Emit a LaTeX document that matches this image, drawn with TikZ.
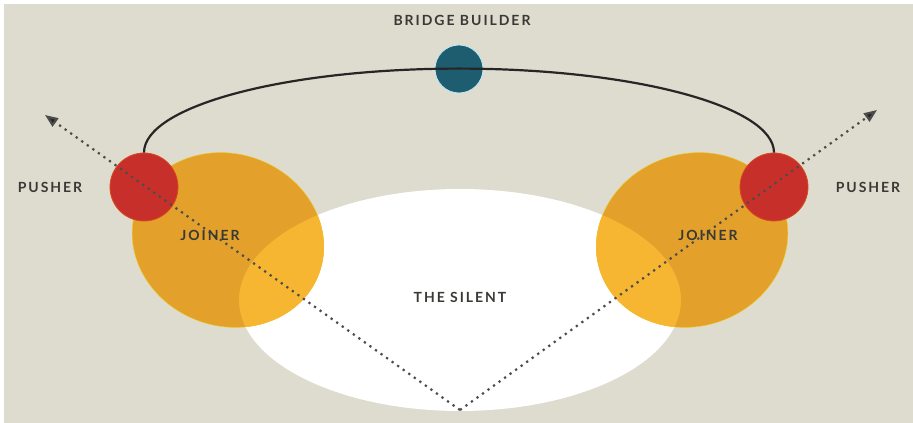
\documentclass[tikz,border=0pt]{standalone}
\usepackage{fontspec}
\usepackage{tikz,xcolor}
\usetikzlibrary{arrows.meta}
\usetikzlibrary{positioning}
\newfontfamily\lblfont{Lato}[LetterSpace=14]

\definecolor{bgbeige}{HTML}{DEDCCE}
\definecolor{orgdark}{HTML}{E3A12C}
\definecolor{orglight}{HTML}{F7B631}
\definecolor{pushred}{HTML}{C7302A}
\definecolor{bridgeblue}{HTML}{1E5C70}
\definecolor{lbltext}{HTML}{3A3935}

\begin{document}
\begin{tikzpicture}[x=1pt,y=1pt,
    lbl/.style={text=lbltext,font=\lblfont\bfseries\fontsize{14}{14}\selectfont},
    pusherdot/.style={circle,fill=pushred,draw=pushred!70!orange,line width=0.8pt,minimum size=68pt,inner sep=0pt},
    bridgedot/.style={circle,fill=bridgeblue,draw=cyan!25!white,line width=0.8pt,minimum size=48pt,inner sep=0pt},
    pathdots/.style={line width=2.2pt,dash pattern=on 2.2pt off 4.6pt,draw=black!70,-{Triangle[length=13pt,width=10pt,fill=black!85]}}]
        % Fundo
        \fill[white] (0,0) rectangle (913,423);
        \fill[bgbeige] (4,0) rectangle (913,419);
        \useasboundingbox (0,0) rectangle (913,423);

        % The silent
        \fill[white] (460,123) ellipse[x radius=221,y radius=111];

        % Joiners
        \fill[orgdark,draw=orgdark!60!yellow,rotate around={-20:(228,183)}] (228,183) ellipse[x radius=97,y radius=86];
        \fill[orgdark,draw=orgdark!60!yellow,rotate around={20:(692,183)}] (692,183) ellipse[x radius=97,y radius=86];
        \begin{scope}
          \clip (460,123) ellipse[x radius=221,y radius=111];
          \fill[orglight,rotate around={-20:(228,183)}] (228,183) ellipse[x radius=97,y radius=86];
          \fill[orglight,rotate around={20:(692,183)}] (692,183) ellipse[x radius=97,y radius=86];
        \end{scope}

        % Pushers e bridge builder
        \node[pusherdot] (lpush) at (144,236) {};
        \node[pusherdot] (rpush) at (774,236) {};
        \node[bridgedot] (bridge) at (459,354) {};

        % Arco
        \draw[line width=2.2pt,black!85] (lpush.north) arc[start angle=180,end angle=0,x radius=315,y radius=84];

        % Linhas pontilhadas
        \coordinate (base) at (460,13);
        \coordinate (ltip) at (45,308);
        \coordinate (rtip) at (877,313);
        \draw[pathdots] (base) -- (ltip);
        \draw[pathdots] (base) -- (rtip);

        % Textos
        \node[lbl] (bridgelbl) at (462,403) {BRIDGE BUILDER};
        \node[lbl] (lpushlbl) at (50,236) {PUSHER};
        \node[lbl] (rpushlbl) at (868,236) {PUSHER};
        \node[lbl] (ljoin) at (210,188) {JOINER};
        \node[lbl] (rjoin) at (708,188) {JOINER};
        \node[lbl] (silent) at (460,126) {THE SILENT};
\end{tikzpicture}
\end{document}
